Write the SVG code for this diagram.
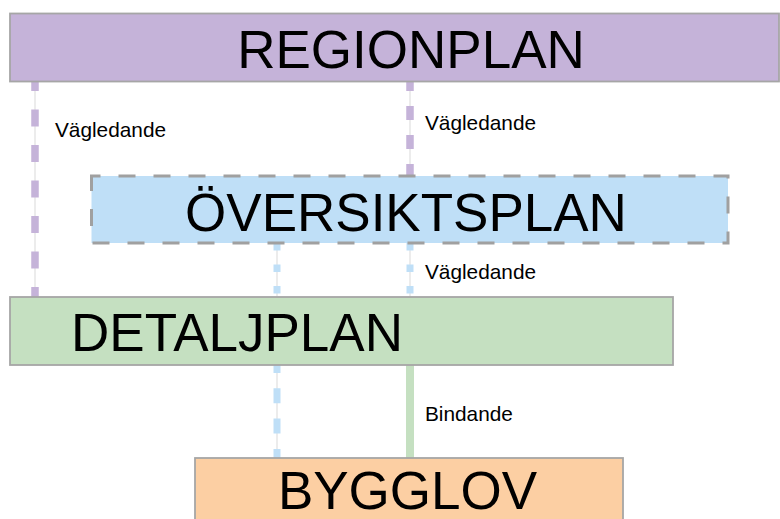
<svg xmlns="http://www.w3.org/2000/svg" width="780" height="519" viewBox="0 0 780 519">
<style>
.box{stroke:#a6a6a6;stroke-width:1.8}
.title{font-family:"Liberation Sans",Arial,sans-serif;font-size:53px;fill:#000;text-anchor:middle}
.lbl{font-family:"Liberation Sans",Arial,sans-serif;font-size:20.8px;fill:#000}
.core{stroke:#e6e6e6;stroke-width:1.5;fill:none}
.pur{stroke:#c5b3d9;stroke-width:7.5;fill:none}
.blu{stroke:#bfdff7;stroke-width:7;fill:none}
.grn{stroke:#c5e0c1;stroke-width:8;fill:none}
</style>
<rect width="780" height="519" fill="#ffffff"/>
<g id="connectors">
  <line class="core" x1="35" y1="81" x2="35" y2="297"/>
  <line class="pur" x1="35" y1="81" x2="35" y2="297" stroke-dasharray="17 18.5" stroke-dashoffset="7"/>
  <line class="core" x1="410" y1="81" x2="410" y2="176"/>
  <line class="pur" x1="410" y1="81" x2="410" y2="176" stroke-dasharray="14 15" stroke-dashoffset="4"/>
  <line class="core" x1="277" y1="243" x2="277" y2="297"/>
  <line class="blu" x1="277" y1="243" x2="277" y2="297" stroke-dasharray="7.5 14" stroke-dashoffset="0"/>
  <line class="core" x1="277" y1="365" x2="277" y2="458"/>
  <line class="blu" x1="277" y1="365" x2="277" y2="458" stroke-dasharray="15 15.3" stroke-dashoffset="7"/>
  <line class="core" x1="410" y1="243" x2="410" y2="297"/>
  <line class="blu" x1="410" y1="243" x2="410" y2="297" stroke-dasharray="7.5 14" stroke-dashoffset="0"/>
  <line class="grn" x1="410" y1="364" x2="410" y2="458"/>
  <text class="lbl" x="55" y="137">Vägledande</text>
  <text class="lbl" x="425" y="130">Vägledande</text>
  <text class="lbl" x="425" y="279">Vägledande</text>
  <text class="lbl" x="425" y="421">Bindande</text>
</g>
<g id="regionplan">
  <rect class="box" x="10" y="13.5" width="769" height="68" fill="#c5b3d9"/>
  <text class="title" x="411" y="68">REGIONPLAN</text>
</g>
<g id="oversiktsplan">
  <rect x="91.5" y="176" width="636.5" height="67" fill="#bfdff7" stroke="#a0a0a0" stroke-width="3" stroke-dasharray="17 18" stroke-dashoffset="8"/>
  <text class="title" x="406" y="231">ÖVERSIKTSPLAN</text>
</g>
<g id="detaljplan">
  <rect class="box" x="10" y="297" width="663" height="68" fill="#c5e0c1"/>
  <text class="title" x="237" y="351">DETALJPLAN</text>
</g>
<g id="bygglov">
  <rect class="box" x="195" y="458" width="428" height="70" fill="#fccfa3"/>
  <text class="title" x="407.5" y="509">BYGGLOV</text>
</g>
</svg>
